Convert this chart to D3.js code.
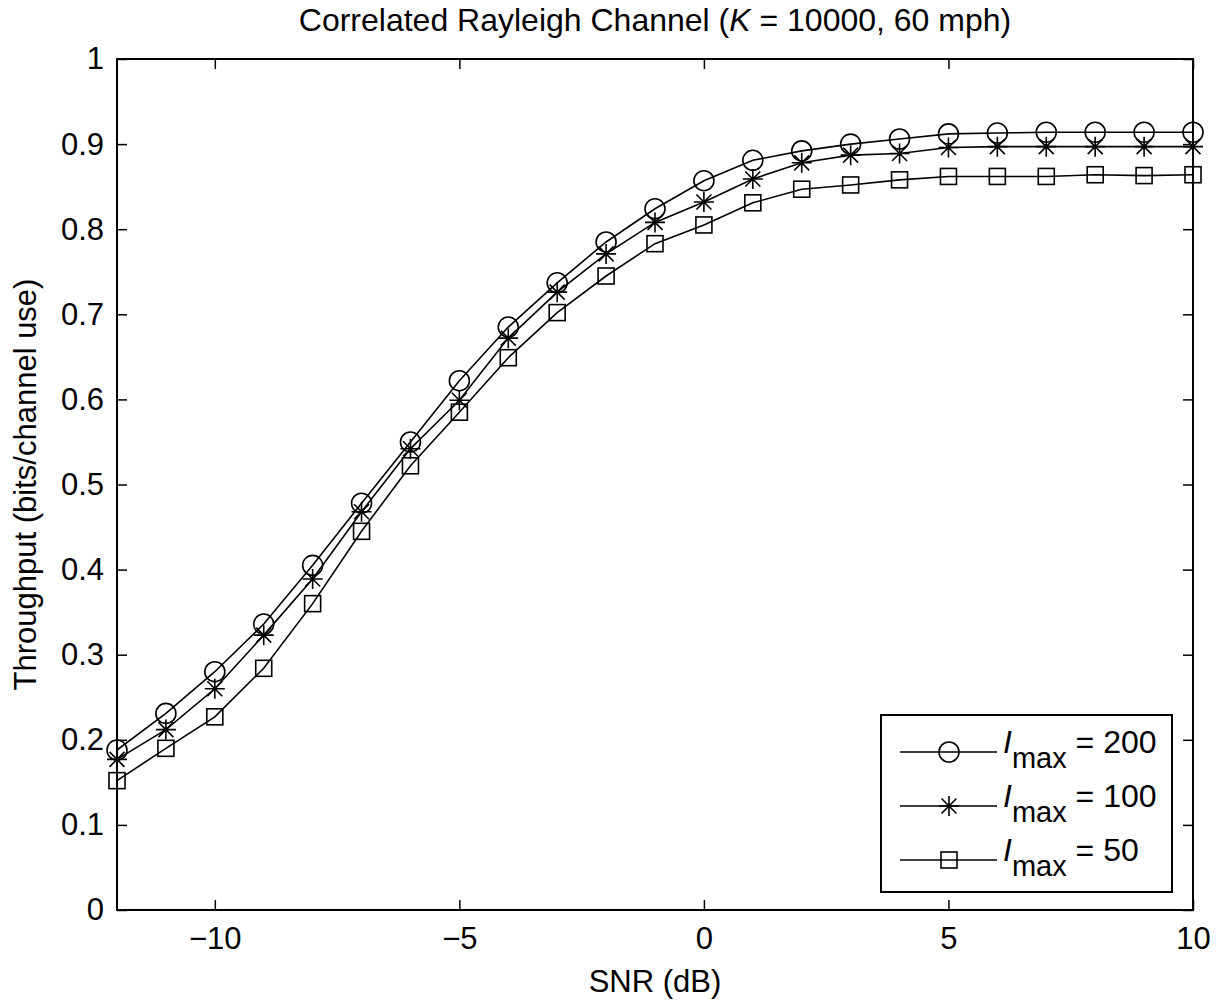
<!DOCTYPE html>
<html>
<head>
<meta charset="utf-8">
<script src="https://cdn.jsdelivr.net/npm/d3@7"></script>
<style>
    body { margin: 0; background: #fff; }
    text { font-family: "Liberation Sans", Arial, sans-serif; fill: #000; }
    .tick text { font-size: 31px; }
    .axis-label { font-size: 31px; }
    .title { font-size: 32px; }
    .legend-text { font-size: 32px; }
    .legend-sub { font-size: 29px; }
</style>
</head>
<body>
<svg id="chart" width="1223" height="1000"></svg>
<script>
// data
const snr = [-12, -11, -10, -9, -8, -7, -6, -5, -4, -3, -2, -1, 0, 1, 2, 3, 4, 5, 6, 7, 8, 9, 10];
const imax200 = [0.188, 0.231, 0.280, 0.336, 0.405, 0.478, 0.550, 0.622, 0.685, 0.737, 0.785, 0.824, 0.857, 0.881, 0.892, 0.900, 0.906, 0.912, 0.913, 0.914, 0.914, 0.914, 0.914];
const imax100 = [0.177, 0.212, 0.260, 0.323, 0.389, 0.468, 0.542, 0.599, 0.672, 0.726, 0.771, 0.808, 0.832, 0.859, 0.878, 0.887, 0.889, 0.896, 0.897, 0.897, 0.897, 0.897, 0.897];
const imax50 = [0.152, 0.190, 0.227, 0.284, 0.360, 0.445, 0.522, 0.585, 0.649, 0.702, 0.745, 0.783, 0.805, 0.831, 0.847, 0.852, 0.858, 0.862, 0.862, 0.862, 0.864, 0.863, 0.864];
const xTicks = [-10, -5, 0, 5, 10];
const yTicks = [0, 0.1, 0.2, 0.3, 0.4, 0.5, 0.6, 0.7, 0.8, 0.9, 1];
const seriesNames = ["200", "100", "50"];
const seriesMarkers = ["circle", "star", "square"];

const plotLeft = 117, plotRight = 1193, plotTop = 59, plotBottom = 910;
const svg = d3.select("#chart");

const x = d3.scaleLinear().domain([-12, 10]).range([plotLeft, plotRight]);
const y = d3.scaleLinear().domain([0, 1]).range([plotBottom, plotTop]);

// axes with inward ticks on all four sides
svg.append("g")
    .attr("transform", `translate(0,${plotBottom})`)
    .call(d3.axisBottom(x).tickValues(xTicks).tickSize(-10).tickPadding(17))
    .call(g => g.select(".domain").remove());
svg.append("g")
    .attr("transform", `translate(0,${plotTop})`)
    .call(d3.axisTop(x).tickValues(xTicks).tickSize(-10).tickFormat(""))
    .call(g => g.select(".domain").remove());
svg.append("g")
    .attr("transform", `translate(${plotLeft},0)`)
    .call(d3.axisLeft(y).tickValues(yTicks).tickSize(-10).tickPadding(13).tickFormat(d => d3.format("")(+d.toFixed(1))))
    .call(g => g.select(".domain").remove());
svg.append("g")
    .attr("transform", `translate(${plotRight},0)`)
    .call(d3.axisRight(y).tickValues(yTicks).tickSize(-10).tickFormat(""))
    .call(g => g.select(".domain").remove());
svg.selectAll(".tick line").attr("stroke", "#000").attr("stroke-width", 1.5);

svg.append("rect")
    .attr("x", plotLeft).attr("y", plotTop)
    .attr("width", plotRight - plotLeft).attr("height", plotBottom - plotTop)
    .attr("fill", "none").attr("stroke", "#000").attr("stroke-width", 2);

// labels
svg.append("text")
    .attr("class", "axis-label")
    .attr("x", (plotLeft + plotRight) / 2).attr("y", 992)
    .attr("text-anchor", "middle")
    .text("SNR (dB)");
svg.append("text")
    .attr("class", "axis-label")
    .attr("transform", `translate(36,${(plotTop + plotBottom) / 2}) rotate(-90)`)
    .attr("text-anchor", "middle")
    .text("Throughput (bits/channel use)");

let title = svg.append("text")
    .attr("class", "title")
    .attr("x", (plotLeft + plotRight) / 2).attr("y", 31)
    .attr("text-anchor", "middle");
title.append("tspan").text("Correlated Rayleigh Channel (");
title.append("tspan").attr("font-style", "italic").text("K");
title.append("tspan").text(" = 10000, 60 mph)");

// markers
function drawMarker(g, type, cx, cy) {
    if (type === "circle") {
        g.append("circle").attr("cx", cx).attr("cy", cy).attr("r", 10)
            .attr("fill", "none").attr("stroke", "#000").attr("stroke-width", 1.6);
    } else if (type === "square") {
        g.append("rect").attr("x", cx - 8).attr("y", cy - 8).attr("width", 16).attr("height", 16)
            .attr("fill", "none").attr("stroke", "#000").attr("stroke-width", 1.6);
    } else {
        let s = 10, d = 7.5;
        g.append("path")
            .attr("d", `M${cx - s},${cy}L${cx + s},${cy}M${cx},${cy - s}L${cx},${cy + s}` +
                `M${cx - d},${cy - d}L${cx + d},${cy + d}M${cx - d},${cy + d}L${cx + d},${cy - d}`)
            .attr("stroke", "#000").attr("stroke-width", 1.6).attr("fill", "none");
    }
}

const allSeries = [imax200, imax100, imax50];
const line = d3.line().x((d, i) => x(snr[i])).y(d => y(d));

allSeries.forEach((vals, k) => {
    let g = svg.append("g").attr("class", "series");
    g.append("path")
        .datum(vals)
        .attr("d", line)
        .attr("fill", "none")
        .attr("stroke", "#000")
        .attr("stroke-width", 1.6);
    vals.forEach((v, i) => drawMarker(g, seriesMarkers[k], x(snr[i]), y(v)));
});

// legend
let legend = svg.append("g").attr("class", "legend");
legend.append("rect")
    .attr("x", 881).attr("y", 715).attr("width", 291).attr("height", 177)
    .attr("fill", "#fff").attr("stroke", "#000").attr("stroke-width", 2);
seriesNames.forEach((name, k) => {
    let cy = 752 + k * 54;
    legend.append("line")
        .attr("x1", 900).attr("x2", 997).attr("y1", cy).attr("y2", cy)
        .attr("stroke", "#000").attr("stroke-width", 1.6);
    drawMarker(legend, seriesMarkers[k], 949, cy);
    let t = legend.append("text").attr("class", "legend-text").attr("x", 1003).attr("y", cy + 1);
    t.append("tspan").attr("font-style", "italic").text("I");
    t.append("tspan").attr("class", "legend-sub").attr("dy", 15).text("max");
    t.append("tspan").attr("dy", -15).text(" = " + name);
});
</script>
</body>
</html>
